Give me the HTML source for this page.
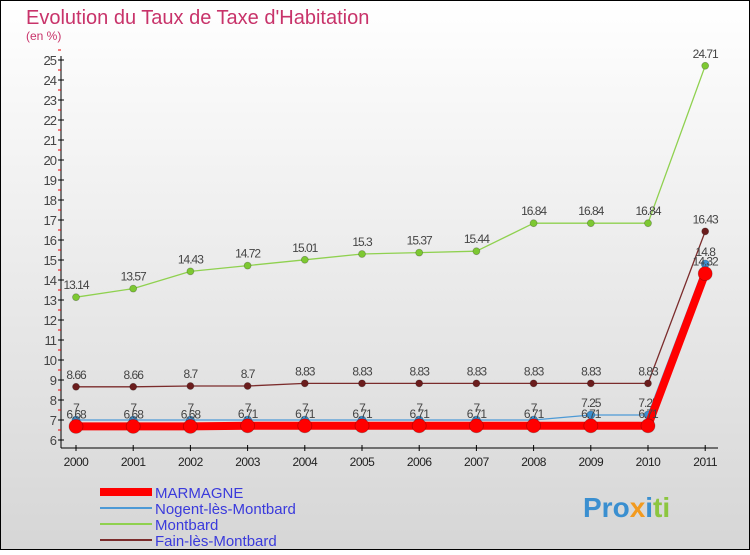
<!DOCTYPE html>
<html><head><meta charset="utf-8"><style>
html,body{margin:0;padding:0}
body{width:750px;height:550px;overflow:hidden;font-family:"Liberation Sans",sans-serif}
</style></head><body>
<svg width="750" height="550" xmlns="http://www.w3.org/2000/svg">
<defs><linearGradient id="bg" x1="0" y1="0" x2="0" y2="1"><stop offset="0" stop-color="#ffffff"/><stop offset="1" stop-color="#d6d6d6"/></linearGradient></defs>
<rect x="0.5" y="0.5" width="749" height="549" fill="url(#bg)" stroke="#000"/>
<text x="26" y="24" font-size="20" fill="#c8336a">Evolution du Taux de Taxe d'Habitation</text>
<text x="26" y="40" font-size="12" fill="#c8336a">(en %)</text>
<g id="axes"></g>
<g id="series"></g>
<g id="legend"></g>
<g>
<text x="583" y="517" font-size="28" font-weight="bold" fill="#3a8fd0">Pro<tspan fill="#f29a1f">x</tspan><tspan fill="#3a8fd0">i</tspan><tspan fill="#8cc63f">ti</tspan></text>
</g>
</svg>
<script>
const years=["2000","2001","2002","2003","2004","2005","2006","2007","2008","2009","2010","2011"];
const marmagne=[6.68,6.68,6.68,6.71,6.71,6.71,6.71,6.71,6.71,6.71,6.71,14.32];
const nogent=[7,7,7,7,7,7,7,7,7,7.25,7.25,14.8];
const montbard=[13.14,13.57,14.43,14.72,15.01,15.3,15.37,15.44,16.84,16.84,16.84,24.71];
const fain=[8.66,8.66,8.7,8.7,8.83,8.83,8.83,8.83,8.83,8.83,8.83,16.43];
const yTicks=[6,7,8,9,10,11,12,13,14,15,16,17,18,19,20,21,22,23,24,25];
const NS="http://www.w3.org/2000/svg";
function X(i){return 76+i*57.2;}
function Y(v){return 440-(v-6)*20;}
function mk(tag,attrs,parent){const e=document.createElementNS(NS,tag);for(const k in attrs)e.setAttribute(k,attrs[k]);parent.appendChild(e);return e;}
const ax=document.getElementById('axes');
let yl=mk('line',{x1:61,y1:56,x2:61,y2:448,stroke:'#000'},ax);


let xl=mk('line',{x1:61,y1:448,x2:718,y2:448,stroke:'#000'},ax);


yTicks.forEach(v=>{
  mk('line',{x1:58,y1:Y(v),x2:64,y2:Y(v),stroke:'#000'},ax);
  mk('line',{x1:58,y1:Y(v)-10,x2:61,y2:Y(v)-10,stroke:'#e00'},ax);
  const t=mk('text',{x:56,y:Y(v)+5,'font-size':13,fill:'#444','text-anchor':'end','letter-spacing':'-1'},ax);
  t.textContent=v;
  
  
});
years.forEach((y,i)=>{
  mk('line',{x1:X(i),y1:445,x2:X(i),y2:451,stroke:'#000'},ax);
  const t=mk('text',{x:X(i),y:466,'font-size':12,fill:'#222','text-anchor':'middle','letter-spacing':'-0.5'},ax);
  t.textContent=y;
  
  
});
const sg=document.getElementById('series');
const defs=[
 {name:'Montbard',data:montbard,color:'#8fd14f',dot:'#7dc832',w:1.3,r:3.5,lab:true},
 {name:'Fain-lès-Montbard',data:fain,color:'#7b2c2c',dot:'#6b1d1d',w:1.3,r:3.5,lab:true},
 {name:'Nogent-lès-Montbard',data:nogent,color:'#4d9ad6',dot:'#3a8fd0',w:1.3,r:4,lab:true},
 {name:'MARMAGNE',data:marmagne,color:'#ff0000',dot:'#ff0000',w:8,r:7,lab:true}
];
defs.forEach(s=>{
  const g=mk('g',{},sg);
  
  
  const p=mk('polyline',{points:s.data.map((v,i)=>X(i)+','+Y(v)).join(' '),fill:'none',stroke:s.color,'stroke-width':s.w,'stroke-linejoin':'round'},g);
  
  
  s.data.forEach((v,i)=>{
    const c=mk('circle',{cx:X(i),cy:Y(v),r:s.r,fill:s.dot,stroke:'rgba(0,0,0,0.25)','stroke-width':0.8},g);
    
    
    const t=mk('text',{x:X(i),y:Y(v)-8,'font-size':12,fill:'#444','text-anchor':'middle','letter-spacing':'-1'},g);
    t.textContent=String(v);
    
    
  });
});
const lg=document.getElementById('legend');
const leg=[['MARMAGNE','#ff0000',8],['Nogent-lès-Montbard','#4d9ad6',2],['Montbard','#8fd14f',2],['Fain-lès-Montbard','#7b2c2c',2]];
leg.forEach((l,i)=>{
  const y=492+i*16;
  const g=mk('g',{},lg);
  
  
  mk('line',{x1:100,y1:y,x2:152,y2:y,stroke:l[1],'stroke-width':l[2]},g);
  const t=mk('text',{x:155,y:y+6,'font-size':15,fill:'#3a3adc'},g);
  t.textContent=l[0];
});
</script>
</body></html>
